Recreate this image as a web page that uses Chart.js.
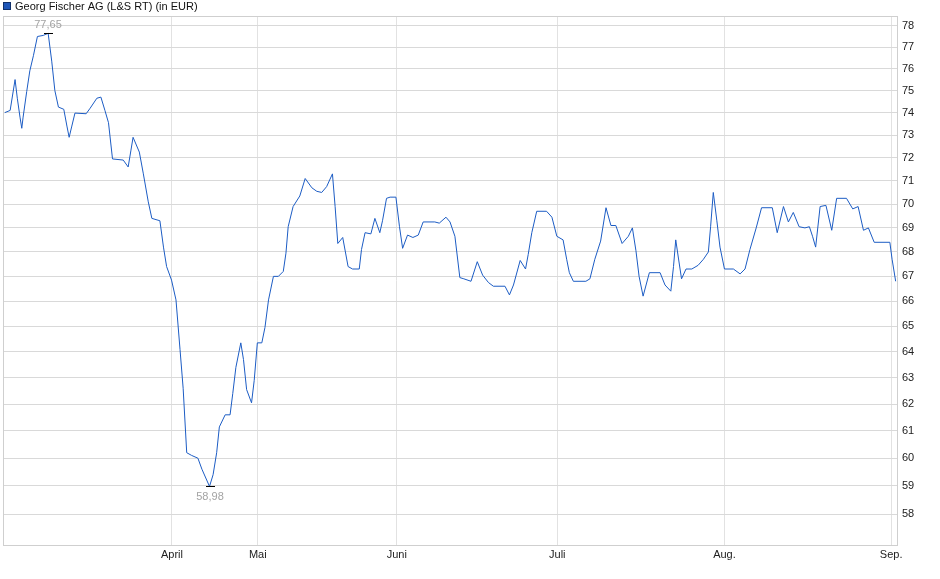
<!DOCTYPE html>
<html>
<head>
<meta charset="utf-8">
<script src="https://cdn.jsdelivr.net/npm/chart.js@4/dist/chart.umd.min.js"></script>
<style>
    html, body { margin: 0; padding: 0; background: #fff; }
</style>
</head>
<body>
<canvas id="kurs_chart" width="940" height="579"></canvas>
<script>
// data (x = Handelstag-Index, y = Kurs in EUR)
const tage = [
    0.4, 1.6, 2.7, 3.2, 3.8, 4.2, 4.5, 5.3, 6.0, 6.8, 7.7, 9.0, 10.1, 10.9, 11.6, 12.4,
    13.6, 14.3, 14.8, 15.4, 16.1, 18.6, 19.5, 21.0, 21.9, 22.8, 23.6, 24.5, 26.9, 28.0,
    28.6, 29.1, 30.5, 31.4, 32.5, 33.3, 35.1, 35.9, 36.6, 37.7, 38.7, 39.6, 40.3, 41.1,
    42.2, 43.6, 44.5, 46.2, 47.0, 47.8, 48.4, 49.7, 50.8, 51.4, 52.1, 53.2, 53.8, 54.5,
    55.6, 56.2, 56.9, 57.9, 58.6, 59.4, 60.5, 61.6, 62.7, 63.3, 63.8, 64.9, 66.4, 67.6,
    69.1, 70.2, 71.3, 72.4, 73.7, 74.3, 74.9, 76.0, 77.2, 78.2, 79.7, 80.2, 81.0, 82.3,
    83.2, 84.3, 84.9, 85.8, 86.6, 87.9, 88.7, 89.4, 90.5, 91.7, 92.9, 94.0, 96.6, 97.6,
    99.1, 100.0, 101.1, 102.2, 103.1, 104.7, 106.1, 107.3, 108.6, 109.7, 112.3, 113.3,
    114.2, 115.7, 116.9, 117.5, 118.3, 119.4, 121.6, 122.8, 123.9, 125.3, 126.1, 126.7,
    127.6, 130.4, 131.3, 132.4, 133.7, 134.9, 136.0, 137.1, 138.5, 139.9, 140.8, 141.6,
    142.3, 143.2, 144.6, 147.0, 148.1, 149.4, 150.0, 150.5, 151.1, 151.8, 152.8, 154.1,
    155.5, 156.7, 157.8, 158.3, 158.9, 159.7, 160.4, 161.4, 163.4, 164.9, 166.0, 167.1,
    168.5, 169.7, 172.1, 173.2, 174.6, 175.7, 176.8, 178.1, 179.4, 180.4, 181.1, 181.8,
    182.8, 184.1, 185.4, 186.5, 188.7, 190.1, 191.3, 192.5, 193.6, 194.9, 198.4, 198.9,
    199.7,
]
const kurse = [
    74.0, 74.1, 75.5, 74.65, 73.8, 73.3, 73.8, 74.95, 75.9, 76.6, 77.5, 77.55, 77.65, 76.35, 75.0, 74.25,
    74.15, 73.4, 72.9, 73.4, 73.98, 73.95, 74.2, 74.65, 74.7, 74.1, 73.55, 71.95, 71.9, 71.6,
    72.3, 72.9, 72.25, 71.3, 70.1, 69.4, 69.3, 68.2, 67.4, 66.85, 66.05, 64.1, 62.6, 60.2,
    60.1, 60.0, 59.6, 58.98, 59.4, 60.2, 61.15, 61.6, 61.6, 62.4, 63.4, 64.35, 63.7, 62.55,
    62.05, 62.9, 64.35, 64.35, 64.95, 66.05, 67.0, 67.0, 67.2, 67.95, 69.05, 69.9, 70.35, 71.1,
    70.7, 70.55, 70.5, 70.75, 71.3, 69.9, 68.35, 68.6, 67.4, 67.3, 67.3, 68.1, 68.8, 68.75,
    69.4, 68.8, 69.3, 70.25, 70.3, 70.3, 69.05, 68.15, 68.7, 68.6, 68.7, 69.25, 69.25, 69.2,
    69.45, 69.25, 68.65, 66.95, 66.9, 66.8, 67.6, 67.05, 66.75, 66.6, 66.6, 66.25,
    66.65, 67.65, 67.3, 67.9, 68.8, 69.7, 69.7, 69.45, 68.65, 68.5, 67.7, 67.15,
    66.8, 66.8, 66.9, 67.7, 68.45, 69.85, 69.1, 69.1, 68.35, 68.65, 69.0, 68.05,
    67.0, 66.2, 67.15, 67.15, 66.65, 66.4, 67.4, 68.5, 67.75, 66.9, 67.3, 67.3,
    67.45, 67.7, 68.0, 69.05, 70.5, 69.3, 68.2, 67.3, 67.3, 67.1, 67.3, 68.1,
    69.0, 69.85, 69.85, 68.8, 69.9, 69.25, 69.65, 69.05, 69.0, 69.05, 68.65, 68.2,
    69.9, 69.95, 68.9, 70.25, 70.25, 69.8, 69.9, 68.9, 69.0, 68.4, 68.4, 67.7,
    66.8,
]
const monatsTage = [37.8, 57.0, 88.1, 124.0, 161.4, 198.7]
const monatsNamen = ["April", "Mai", "Juni", "Juli", "Aug.", "Sep."]
const kursTicks = [58, 59, 60, 61, 62, 63, 64, 65, 66, 67, 68, 69, 70, 71, 72, 73, 74, 75, 76, 77, 78]
const serienName = "Georg Fischer AG (L&S RT) (in EUR)"

const FONT = "'Liberation Sans', Arial, sans-serif"
const LINE_COLOR = "#1c5cc4"

function main() {
    new Chart(document.getElementById("kurs_chart"), {
        type: "line",
        data: {
            datasets: [
                {
                    label: serienName,
                    data: tage.map((t, i) => ({ x: t, y: kurse[i] })),
                    borderColor: LINE_COLOR,
                    borderWidth: 1,
                    pointRadius: 0,
                    tension: 0,
                    fill: false,
                },
            ],
        },
        options: {
            responsive: false,
            animation: false,
            devicePixelRatio: 1,
            layout: {
                padding: { top: 16, left: 3, right: 0, bottom: 0 },
            },
            scales: {
                x: {
                    type: "linear",
                    min: 0,
                    max: 200,
                    afterBuildTicks: (s) => {
                        s.ticks = monatsTage.map((v) => ({ value: v }))
                    },
                    afterFit: (s) => {
                        s.height = 34
                    },
                    grid: {
                        color: "#e2e2e2",
                        drawTicks: false,
                    },
                    border: { display: false },
                    ticks: {
                        autoSkip: false,
                        maxRotation: 0,
                        padding: 3,
                        color: "#222",
                        font: { family: FONT, size: 11 },
                        callback: (v, i) => monatsNamen[i],
                    },
                },
                y: {
                    type: "logarithmic",
                    position: "right",
                    min: 56.92,
                    max: 78.47,
                    afterBuildTicks: (s) => {
                        s.ticks = kursTicks.map((v) => ({ value: v }))
                    },
                    afterFit: (s) => {
                        s.width = 43
                    },
                    grid: {
                        color: "#d9d9d9",
                        drawTicks: false,
                    },
                    border: { display: false },
                    ticks: {
                        autoSkip: false,
                        padding: 5,
                        color: "#222",
                        font: { family: FONT, size: 11 },
                        callback: (v) => String(v),
                    },
                },
            },
            plugins: {
                legend: { display: false },
                tooltip: { enabled: false },
            },
        },
        plugins: [rahmen, legende, extremwerte],
    })
}

// plugins
const rahmen = {
    id: "rahmen",
    beforeDatasetsDraw(chart) {
        const { ctx, chartArea: a } = chart
        ctx.save()
        ctx.strokeStyle = "#cfcfcf"
        ctx.lineWidth = 1
        ctx.strokeRect(Math.round(a.left) + 0.5, Math.round(a.top) + 0.5,
            Math.round(a.right - a.left), Math.round(a.bottom - a.top))
        ctx.restore()
    },
}

const legende = {
    id: "legende",
    afterDraw(chart) {
        const ctx = chart.ctx
        ctx.save()
        ctx.fillStyle = "#1e56b8"
        ctx.fillRect(3, 2, 8, 8)
        ctx.strokeStyle = "#10306a"
        ctx.lineWidth = 1
        ctx.strokeRect(3.5, 2.5, 7, 7)
        ctx.fillStyle = "#111"
        ctx.font = "11px " + FONT
        ctx.textBaseline = "middle"
        ctx.textAlign = "left"
        ctx.fillText(serienName, 15, 6.5)
        ctx.restore()
    },
}

const extremwerte = {
    id: "extremwerte",
    afterDatasetsDraw(chart) {
        const { ctx, scales } = chart
        const iMax = kurse.indexOf(Math.max(...kurse))
        const iMin = kurse.indexOf(Math.min(...kurse))
        const fmt = (v) => v.toFixed(2).replace(".", ",")
        ctx.save()
        ctx.font = "11px " + FONT
        ctx.textAlign = "center"
        ctx.textBaseline = "middle"
        ;[[iMax, -9], [iMin, 10]].forEach(([i, dy]) => {
            const px = Math.round(scales.x.getPixelForValue(tage[i]))
            const py = Math.round(scales.y.getPixelForValue(kurse[i])) + 0.5
            ctx.strokeStyle = "#000"
            ctx.lineWidth = 1
            ctx.beginPath()
            ctx.moveTo(px - 4, py)
            ctx.lineTo(px + 5, py)
            ctx.stroke()
            ctx.fillStyle = "#a3a3a3"
            ctx.fillText(fmt(kurse[i]), px, py + dy)
        })
        ctx.restore()
    },
}

// listeners
document.addEventListener("DOMContentLoaded", main())
</script>
</body>
</html>
